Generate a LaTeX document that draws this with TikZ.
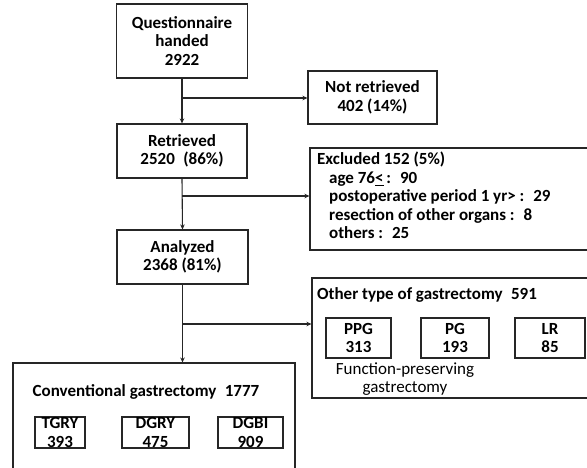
\documentclass[tikz,border=0pt]{standalone}
\usepackage{fontspec}
\setmainfont{Carlito}
\usetikzlibrary{arrows.meta}
\begin{document}
\begin{tikzpicture}[x=1pt,y=-1pt,
  box/.style={draw=black!85, line width=1.1pt, inner sep=0pt, align=center, font=\fontsize{17}{18.5}\selectfont\bfseries},
  txt/.style={inner sep=0pt, font=\fontsize{17}{18.5}\selectfont\bfseries},
  arr/.style={draw=black!85, line width=1.1pt, -{Stealth[length=5pt,width=4.5pt]}}]
\useasboundingbox[fill=white] (0,0) rectangle (587,468);
\clip (0,0) rectangle (587,468);
% main column
\node[box, minimum width=131pt, minimum height=74pt] (q) at (182,41) {Questionnaire\\handed\\2922};
\node[box, minimum width=130pt, minimum height=54pt] (ret) at (182,151) {Retrieved\\2520\enspace(86\%)};
\node[box, minimum width=131pt, minimum height=54pt] (ana) at (182.5,257) {Analyzed\\2368 (81\%)};
\node[box, minimum width=282pt, minimum height=117pt] (conv) at (154,421.5) {};
% right column
\node[box, minimum width=129pt, minimum height=53pt] (nr) at (372.5,97.5) {Not retrieved\\402 (14\%)};
\node[box, minimum width=290pt, minimum height=102pt] (exc) at (455,199) {};
\node[box, minimum width=288pt, minimum height=120pt] (oth) at (456,338) {};
% excluded text
\node[txt, anchor=north west, align=left] (exctxt) at (317,152) {Excluded 152 (5\%)\\
\hspace*{12pt}age 76\underline{<}\,: \ 90\\
\hspace*{12pt}postoperative period 1 yr> : \ 29\\
\hspace*{12pt}resection of other organs : \ 8\\
\hspace*{12pt}others : \ 25};
% other type
\node[txt, anchor=west] (othtxt) at (317,295) {Other type of gastrectomy\enspace 591};
\node[box, minimum width=65pt, minimum height=40pt] (ppg) at (358.5,338) {PPG\\313};
\node[box, minimum width=68pt, minimum height=40pt] (pg) at (455,338) {PG\\193};
\node[box, minimum width=70pt, minimum height=40pt] (lr) at (550,338) {LR\\85};
\node[txt, font=\fontsize{17}{17.5}\selectfont, align=center] (fpg) at (405,379) {Function-preserving\\gastrectomy};
% conventional
\node[txt] (convtxt) at (146,392) {Conventional gastrectomy\enspace 1777};
\node[box, minimum width=50pt, minimum height=31pt] (tgry) at (60,432.5) {TGRY\\393};
\node[box, minimum width=67pt, minimum height=31pt] (dgry) at (155.5,432.5) {DGRY\\475};
\node[box, minimum width=65pt, minimum height=31pt] (dgbi) at (250.5,432.5) {DGBI\\909};
% connectors
\coordinate (b1) at (182,98);
\coordinate (b2) at (182,196);
\coordinate (b3) at (182,324);
\draw[arr] (q.south) -- (ret.north);
\draw[arr] (b1) -- (b1 -| nr.west);
\draw[arr] (ret.south) -- (ana.north);
\draw[arr] (b2) -- (b2 -| exc.west);
\draw[arr] (ana.south) -- (ana.south |- conv.north);
\draw[arr] (b3) -- (b3 -| oth.west);
\end{tikzpicture}
\end{document}
